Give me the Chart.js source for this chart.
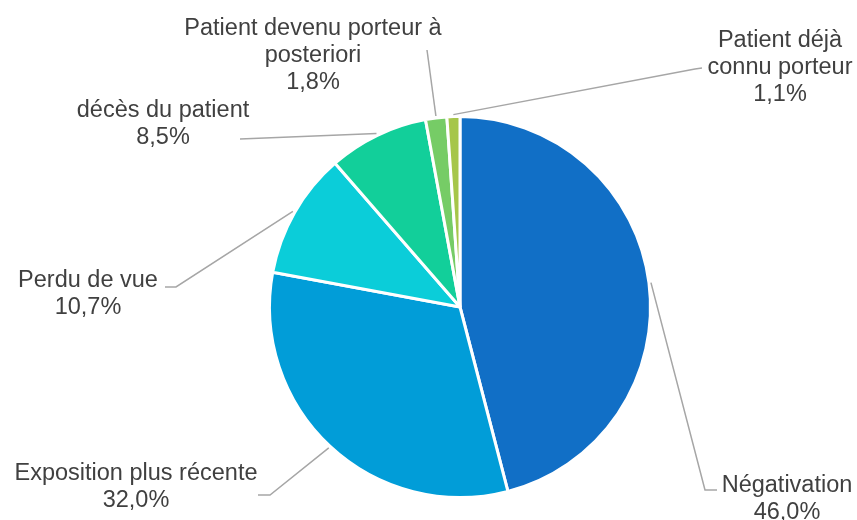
<!DOCTYPE html>
<html>
<head>
<meta charset="utf-8">
<script src="https://cdn.jsdelivr.net/npm/chart.js@4"></script>
<style>
  html, body { margin: 0; padding: 0; background: #fff; }
  #pieChart { display: block; }
</style>
</head>
<body>
<canvas id="pieChart" width="857" height="520"></canvas>
<script>
var categories = [
  'Négativation',
  'Exposition plus récente',
  'Perdu de vue',
  'décès du patient',
  ['Patient devenu porteur à', 'posteriori'],
  ['Patient déjà', 'connu porteur']
];
var shares = [46.0, 32.0, 10.7, 8.5, 1.8, 1.1];
var sliceColors = ['#116FC6', '#019DD8', '#0BCDD9', '#12CF9A', '#76CC66', '#A6C64A'];

// where each label sits and how its leader line bends on the way to the slice
var labelLayout = [
  { x: 787, y: 486, elbow: [705, 490], end: [717, 490] },
  { x: 136, y: 474, elbow: [270, 495], end: [258, 495] },
  { x: 88,  y: 281, elbow: [176, 287], end: [165, 287] },
  { x: 163, y: 111, elbow: null,       end: [240, 139] },
  { x: 313, y: 29,  elbow: null,       end: [427, 50] },
  { x: 780, y: 41,  elbow: [695, 69],  end: [702, 68] }
];

function formatShare(v) {
  return v.toFixed(1).replace('.', ',') + '%';
}

var outsideLabels = {
  id: 'outsideLabels',
  afterDatasetsDraw: function (chart) {
    var ctx = chart.ctx;
    var arcs = chart.getDatasetMeta(0).data;
    ctx.save();
    arcs.forEach(function (arc, i) {
      var p = arc.getProps(['x', 'y', 'startAngle', 'endAngle', 'outerRadius'], true);
      var mid = (p.startAngle + p.endAngle) / 2;
      var r = p.outerRadius + 2;
      var lay = labelLayout[i];

      ctx.beginPath();
      ctx.moveTo(p.x + Math.cos(mid) * r, p.y + Math.sin(mid) * r);
      if (lay.elbow) ctx.lineTo(lay.elbow[0], lay.elbow[1]);
      ctx.lineTo(lay.end[0], lay.end[1]);
      ctx.strokeStyle = '#A6A6A6';
      ctx.lineWidth = 1.5;
      ctx.stroke();

      var lines = [].concat(categories[i], formatShare(shares[i]));
      ctx.fillStyle = '#404040';
      ctx.font = '23.5px "Liberation Sans", Arial, sans-serif';
      ctx.textAlign = 'center';
      ctx.textBaseline = 'middle';
      lines.forEach(function (t, k) {
        ctx.fillText(t, lay.x, lay.y + k * 26.8);
      });
    });
    ctx.restore();
  }
};

var ctx = document.getElementById('pieChart').getContext('2d');
var myPieChart = new Chart(ctx, {
  type: 'pie',
  data: {
    labels: categories,
    datasets: [
      {
        data: shares,
        backgroundColor: sliceColors,
        borderColor: '#ffffff',
        borderWidth: 3
      }
    ]
  },
  options: {
    responsive: false,
    animation: false,
    layout: {
      padding: { left: 268, right: 205, top: 115, bottom: 21 }
    },
    plugins: {
      legend: { display: false },
      tooltip: { enabled: false }
    }
  },
  plugins: [outsideLabels]
});
</script>
</body>
</html>
